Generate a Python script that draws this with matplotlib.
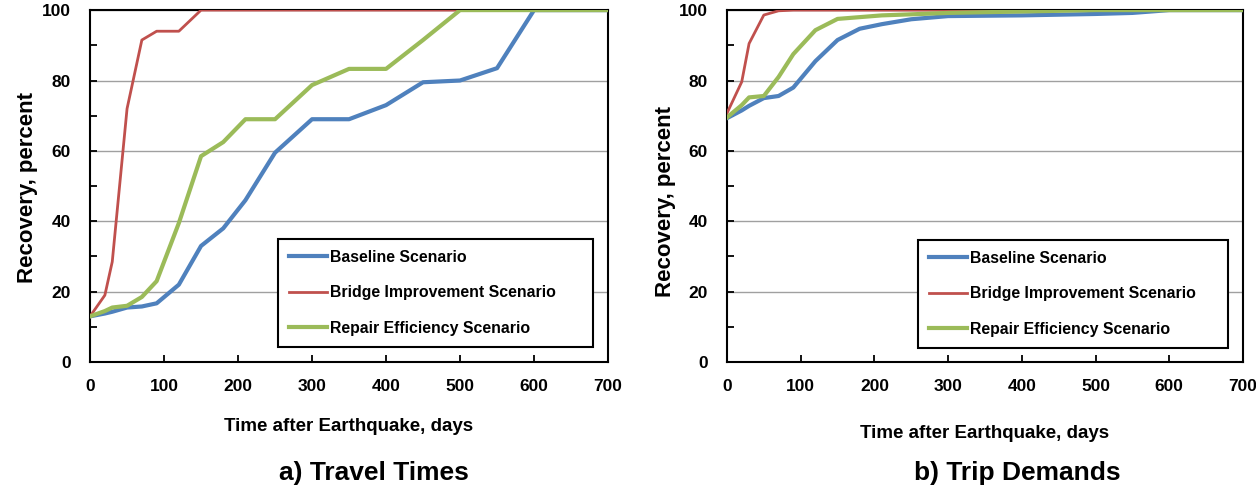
import matplotlib
matplotlib.use("Agg")
import matplotlib.pyplot as plt
from matplotlib.ticker import MultipleLocator

# days after the earthquake (same sampling for every series)
days = [0, 20, 30, 50, 70, 90, 120, 150, 180, 210, 250, 300, 350, 400, 450, 500, 550, 600, 700]

# a) travel times
tt_baseline = [13, 13.8, 14.3, 15.5, 15.8, 16.7, 22, 33, 38, 46, 59.5, 69, 69, 73, 79.5, 80, 83.5, 100, 100]
tt_bridge = [13, 19, 28.5, 72, 91.5, 94, 94, 100, 100, 100, 100, 100, 100, 100, 100, 100, 100, 100, 100]
tt_repair = [13, 14.5, 15.5, 16, 18.5, 23, 39.5, 58.5, 62.5, 69, 69, 78.7, 83.3, 83.3, 91.5, 100, 100, 100, 100]

# b) trip demands
td_baseline = [69.3, 71.5, 72.8, 75, 75.6, 78, 85.5, 91.5, 94.7, 96, 97.4, 98.3, 98.4, 98.5, 98.7, 98.9, 99.2, 100, 100]
td_bridge = [70.7, 79.6, 90.5, 98.6, 99.8, 100, 100, 100, 100, 100, 100, 100, 100, 100, 100, 100, 100, 100, 100]
td_repair = [69.5, 73, 75.2, 75.6, 81, 87.5, 94.3, 97.5, 98, 98.5, 98.8, 99.2, 99.4, 99.6, 99.8, 100, 100, 100, 100]

labels = ["Baseline Scenario", "Bridge Improvement Scenario", "Repair Efficiency Scenario"]
titles = ["a) Travel Times", "b) Trip Demands"]

blue = "#4F81BD"
red = "#C0504D"
green = "#9BBB59"

arial = ["Liberation Sans", "DejaVu Sans"]

fig = plt.figure(figsize=(12.56, 4.88), dpi=100)
ax1 = fig.add_axes([0.0717, 0.258, 0.4124, 0.7213])
ax2 = fig.add_axes([0.5788, 0.258, 0.4108, 0.7213])

# per panel: axes, data, legend anchor, ylabel coords, xlabel y
panels = [
    (ax1, tt_baseline, tt_bridge, tt_repair, (0.363, 0.043, 0.608, 0.3), (-0.100, 0.496), -0.160),
    (ax2, td_baseline, td_bridge, td_repair, (0.370, 0.040, 0.601, 0.3), (-0.099, 0.455), -0.178),
]

for ax, base, bridge, repair, leg_box, ylab_xy, xlab_y in panels:
    ax.plot(days, base, color=blue, lw=3, label=labels[0], zorder=3)
    ax.plot(days, bridge, color=red, lw=2, label=labels[1], zorder=3)
    ax.plot(days, repair, color=green, lw=3, label=labels[2], zorder=3)

    ax.set_xlim(0, 700)
    ax.set_ylim(0, 100)
    ax.xaxis.set_major_locator(MultipleLocator(100))
    ax.yaxis.set_major_locator(MultipleLocator(20))
    ax.yaxis.set_minor_locator(MultipleLocator(10))
    ax.grid(axis="y", color="#a0a0a0", lw=1)
    ax.set_axisbelow(True)
    for sp in ax.spines.values():
        sp.set_linewidth(1.5)
        sp.set_color("black")
    ax.tick_params(which="both", direction="in", length=5, width=1.3)
    ax.tick_params(axis="y", pad=14)
    ax.tick_params(axis="x", pad=12)
    for lab in ax.get_xticklabels() + ax.get_yticklabels():
        lab.set_family(arial)
        lab.set_fontweight("bold")
        lab.set_fontsize(12.5)

    ax.set_ylabel("Recovery, percent", family=arial, fontweight="bold", fontsize=16)
    ax.yaxis.set_label_coords(*ylab_xy)
    ax.set_xlabel("Time after Earthquake, days", family=arial, fontweight="bold", fontsize=13.5)
    ax.xaxis.set_label_coords(0.5, xlab_y)

    leg = ax.legend(loc="lower left", bbox_to_anchor=leg_box, mode="expand", borderaxespad=0,
                    prop={"family": arial, "weight": "bold", "size": 11.4},
                    handlelength=2.4, handletextpad=0.2, labelspacing=1.3,
                    fancybox=False, framealpha=1, edgecolor="black", borderpad=0.7)
    leg.get_frame().set_linewidth(1.5)

fig.text(0.2978, 0.031, titles[0], ha="center", va="center", family=arial, fontweight="bold", fontsize=19)
fig.text(0.8097, 0.031, titles[1], ha="center", va="center", family=arial, fontweight="bold", fontsize=19)

fig.savefig("out.png", dpi=100)
